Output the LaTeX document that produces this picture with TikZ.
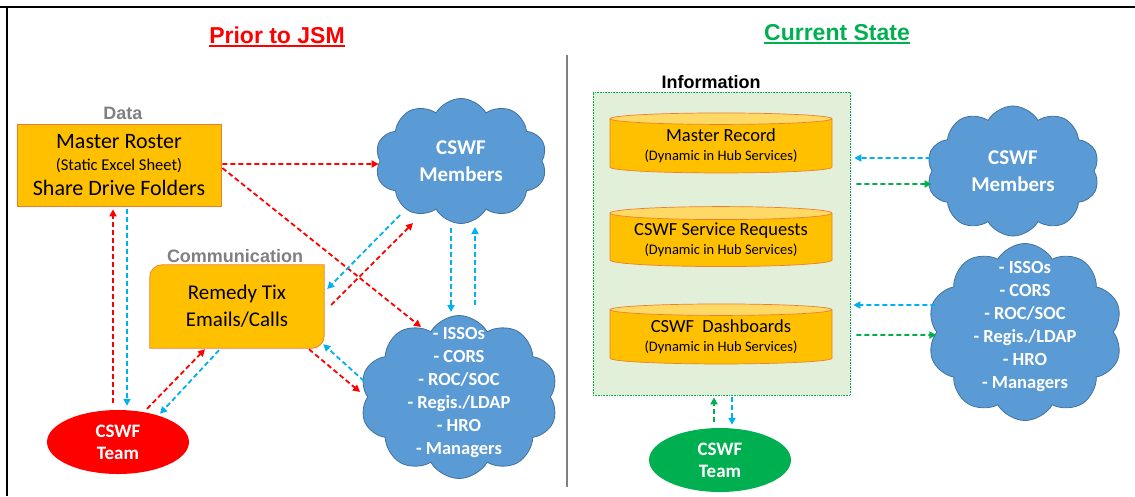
\documentclass[tikz,border=0pt]{standalone}
\usepackage{fontspec}
\setmainfont{Carlito}
\newfontfamily\arialfont{Liberation Sans}
\usetikzlibrary{calc}
\usetikzlibrary{arrows.meta}
\usetikzlibrary{shapes.symbols,shapes.geometric}
\usetikzlibrary{backgrounds}

\definecolor{amber}{HTML}{FFC000}
\definecolor{amberline}{HTML}{ED7D31}
\definecolor{ambertop}{HTML}{FFD966}
\definecolor{skyblue}{HTML}{5B9BD5}
\definecolor{skyline}{HTML}{41719C}
\definecolor{arrblue}{HTML}{00B0F0}
\definecolor{okgreen}{HTML}{00B050}
\definecolor{palegreen}{HTML}{E2F0D9}
\definecolor{tagray}{HTML}{808080}

\begin{document}
\begin{tikzpicture}[
     x=1pt,y=-1pt,
     box/.style={fill=amber,draw=amberline,line width=0.7pt,inner sep=0pt,align=center,font=\fontsize{22}{25}\selectfont},
     puff/.style={cloud,cloud puffs=10,cloud puff arc=120,cloud ignores aspect,fill=skyblue,draw=skyline,line width=0.8pt,inner sep=0pt,text=white,align=center,font=\bfseries\fontsize{21}{27}\selectfont},
     roll/.style={text=white,align=center,inner sep=0pt,font=\bfseries\fontsize{18.5}{23}\selectfont},
     crew/.style={ellipse,minimum width=142,minimum height=64,inner sep=0pt,text=white,align=center,font=\bfseries\fontsize{19}{22}\selectfont},
     drum/.style={cylinder,shape border rotate=90,aspect=0.075,minimum width=222,minimum height=60,inner sep=0pt,draw=amberline,line width=0.7pt,cylinder uses custom fill,cylinder body fill=amber,cylinder end fill=ambertop,align=center,font=\fontsize{18.5}{19}\selectfont},
     tag/.style={anchor=base,inner sep=0pt,font=\arialfont\bfseries\fontsize{18}{18}\selectfont},
     head/.style={anchor=base,inner sep=0pt,font=\arialfont\bfseries\fontsize{23}{23}\selectfont},
     flow/.style={line width=1.8pt,dash pattern=on 5pt off 3pt,-{Triangle[length=7pt,width=7pt]}},
     redflow/.style={flow,draw=red},
     blueflow/.style={flow,draw=arrblue},
     greenflow/.style={flow,draw=okgreen}
   ]
   \useasboundingbox (0,0) rectangle (1135,496);
   % Frame and divider.
   \draw[line width=2.5pt] (0,7) -- (1135,7);
   \draw[line width=2.5pt] (7,7) -- (7,496);
   \draw[line width=2pt,tagray] (567,55) -- (567,487);

   % Before JSM.
   \node[head,text=red] (prior) at (277,43) {Prior to JSM};
   \draw[red,line width=1.6pt] ($(prior.base west)+(0,3)$) -- ($(prior.base east)+(0,3)$);
   \node[tag,text=tagray] (datatag) at (123,119) {Data};
   \node[box,minimum width=204,minimum height=82] (roster) at (119,165)
     {Master Roster\\[-3pt]{\fontsize{16.5}{18}\selectfont(Static Excel Sheet)}\\Share Drive Folders};
   \node[tag,text=tagray] (commtag) at (235,262) {Communication};
   \node[inner sep=0pt,minimum width=174,minimum height=83,align=center,font=\fontsize{21}{27}\selectfont] (remedy) at (237,306.5)
     {Remedy Tix\\Emails/Calls};
   \begin{scope}[on background layer]
     \filldraw[fill=amber,draw=amberline,line width=0.7pt]
       [rounded corners=12pt] (remedy.west) -- (remedy.north west) -- (remedy.north)
       [sharp corners] -- (remedy.north east) -- (remedy.east)
       [rounded corners=12pt] -- (remedy.south east) -- (remedy.south)
       [sharp corners] -- (remedy.south west) -- cycle;
   \end{scope}
   \node[crew,fill=red] (team) at (118,442) {CSWF\\Team};
   \node[puff,minimum width=172,minimum height=125] (members) at (461,161) {CSWF\\Members};
   \node[puff,minimum width=198,minimum height=163] (issos) at (459,397) {};
   \node[roll] (issolist) at (459,392)
     {- ISSOs\\- CORS\\- ROC/SOC\\- Regis./LDAP\\- HRO\\- Managers};

   \draw[redflow] ($(roster.east)+(1,-1)$) -- ($(members.west)+(-1,3)$);
   \draw[redflow] ($(roster.east)+(1,3)$) -- ($(issos.center)+(-38,-70)$);
   \draw[redflow] ($(team.north)+(-5,-7)$) -- ($(roster.south)+(-6,3)$);
   \draw[blueflow] ($(roster.south)+(8,3)$) -- ($(team.north)+(9,-4)$);
   \draw[redflow] ($(team.north)+(29,-1)$) -- ($(remedy.south)+(-32,1)$);
   \draw[blueflow] ($(remedy.south)+(-18,2)$) -- ($(team.north)+(42,4)$);
   \draw[redflow] ($(remedy.south)+(72,1)$) -- ($(issos.center)+(-99,-5)$);
   \draw[blueflow] ($(issos.center)+(-95,-16)$) -- ($(remedy.south east)+(-1,-4)$);
   \draw[redflow] ($(remedy.east)+(7,-1.5)$) -- ($(members.center)+(-48,62)$);
   \draw[blueflow] ($(members.center)+(-61,54)$) -- ($(remedy.east)+(3,-17.5)$);
   \draw[blueflow] ($(members.center)+(-10,67)$) -- ($(issos.center)+(-8,-85)$);
   \draw[blueflow] ($(issos.center)+(16,-92)$) -- ($(members.center)+(14,66)$);

   % Hub Services.
   \node[head,text=okgreen] (current) at (837,40) {Current State};
   \draw[okgreen,line width=1.6pt] ($(current.base west)+(0,3)$) -- ($(current.base east)+(0,3)$);
   \node[tag,text=black] (infotag) at (711,88) {Information};
   \node[fill=palegreen,draw=okgreen,densely dotted,line width=0.6pt,minimum width=257,minimum height=303,inner sep=0pt] (info) at (721.5,243.5) {};
   \node[drum] (record) at (721,146)
     {Master Record\\{\fontsize{14.5}{17}\selectfont(Dynamic in Hub Services)}};
   \node[drum] (requests) at (721,240)
     {CSWF Service Requests\\{\fontsize{14.5}{17}\selectfont(Dynamic in Hub Services)}};
   \node[drum] (dashboards) at (721,337)
     {CSWF\ \ Dashboards\\{\fontsize{14.5}{17}\selectfont(Dynamic in Hub Services)}};
   \node[crew,fill=okgreen] (hubteam) at (720,460) {CSWF\\Team};
   \node[puff,minimum width=173,minimum height=130] (hubmembers) at (1013,171) {CSWF\\Members};
   \node[puff,minimum width=195,minimum height=177] (hubissos) at (1025,332) {};
   \node[roll] (hublist) at (1025,326)
     {- ISSOs\\- CORS\\- ROC/SOC\\- Regis./LDAP\\- HRO\\- Managers};

   \draw[blueflow] ($(hubmembers.west)+(-1,-13)$) -- ($(info.east)+(4,-85.5)$);
   \draw[greenflow] ($(info.east)+(6,-59.5)$) -- ($(hubmembers.west)+(0,13)$);
   \draw[blueflow] ($(hubissos.west)+(-1,-27)$) -- ($(info.east)+(3,61.5)$);
   \draw[greenflow] ($(info.east)+(6,91.5)$) -- ($(hubissos.west)+(0,3)$);
   \draw[greenflow] ($(hubteam.north)+(-6,-6)$) -- ($(info.south)+(-7.5,2)$);
   \draw[blueflow] ($(info.south)+(10.5,2)$) -- ($(hubteam.north)+(12,-3)$);
 \end{tikzpicture}
\end{document}
